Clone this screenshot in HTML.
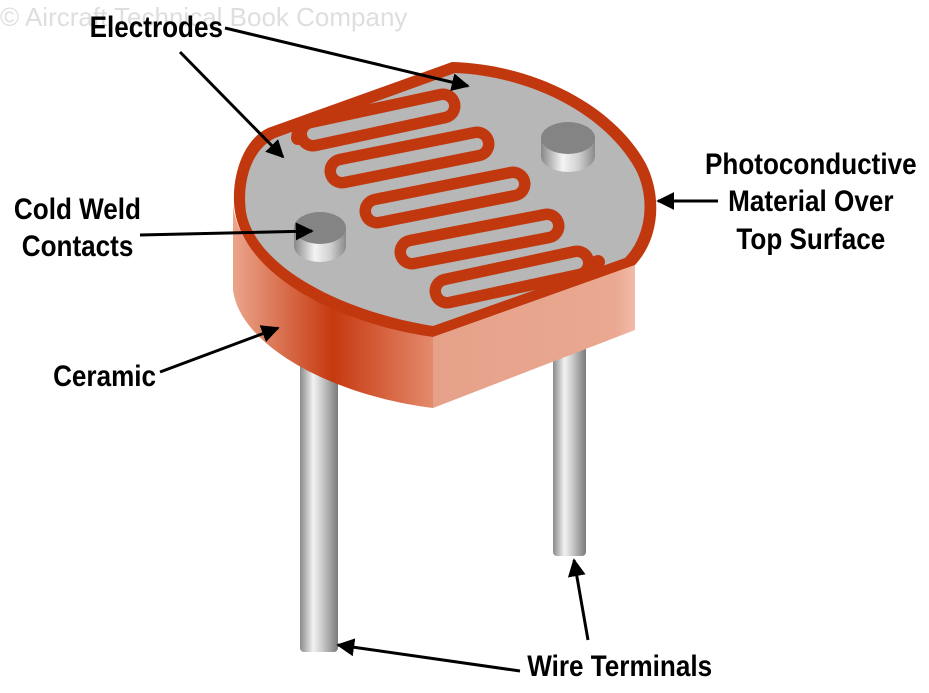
<!DOCTYPE html>
<html><head><meta charset="utf-8"><style>
html,body{margin:0;padding:0;background:#fff;}
svg{display:block;}
text{font-family:"Liberation Sans",sans-serif;font-size:30px;font-weight:bold;fill:#000;}
</style></head><body>
<svg width="929" height="693" viewBox="0 0 929 693" xmlns="http://www.w3.org/2000/svg">
<defs>
<linearGradient id="pin" x1="0" x2="1" y1="0" y2="0">
<stop offset="0" stop-color="#8a8a8a"/><stop offset="0.35" stop-color="#f2f2f2"/><stop offset="0.6" stop-color="#c8c8c8"/><stop offset="1" stop-color="#7a7a7a"/>
</linearGradient>
<linearGradient id="body" x1="233" x2="433" y1="0" y2="0" gradientUnits="userSpaceOnUse">
<stop offset="0" stop-color="#eba58c"/><stop offset="0.5" stop-color="#c6390f"/><stop offset="1" stop-color="#e48a6c"/>
</linearGradient>
<linearGradient id="right" x1="433" x2="635" y1="0" y2="0" gradientUnits="userSpaceOnUse">
<stop offset="0" stop-color="#e6a189"/><stop offset="0.9" stop-color="#eaa891"/><stop offset="1" stop-color="#f1bba7"/>
</linearGradient>
<linearGradient id="cyl" x1="0" x2="1" y1="0" y2="0">
<stop offset="0" stop-color="#888"/><stop offset="0.4" stop-color="#f4f4f4"/><stop offset="0.7" stop-color="#d0d0d0"/><stop offset="1" stop-color="#8a8a8a"/>
</linearGradient>
<marker id="ah" viewBox="0 0 10 10" refX="9" refY="5" markerWidth="6" markerHeight="6" orient="auto">
<path d="M0,0 L10,5 L0,10 z" fill="#000"/></marker>
</defs>

<text x="0" y="26" style="font-size:26px;font-weight:normal;fill:#dedede">© Aircraft Technical Book Company</text>

<rect x="300" y="360" width="38" height="292" rx="4" fill="url(#pin)"/>
<rect x="553" y="330" width="33" height="226" rx="4" fill="url(#pin)"/>

<path d="M233,205 L233,290 C240,345 330,395 433,408 L433,330 C330,320 240,270 233,205 Z" fill="url(#body)"/>
<path d="M433,337 L635,265 L635,330 L433,408 Z" fill="url(#right)"/>

<path d="M452,62 L268,128 C242,140 230,180 235,212 C245,272 330,322 433,337 L635,265 C660,238 662,196 646,164 C612,102 530,64 452,62 Z" fill="#c1380f"/>
<path d="M455,73 L275,138 C251,150 242,182 246,212 C255,264 335,310 433,326 L625,258 C647,235 650,198 636,170 C604,112 528,76 455,73 Z" fill="#b7b7b7"/>

<g stroke-linecap="round" fill="none">
<path d="M300,126 L298,138" stroke="#c1380f" stroke-width="14"/>
<path d="M573,272 L598,262" stroke="#c1380f" stroke-width="14"/>
<g stroke="#c1380f" stroke-width="35">
<line x1="313" y1="134" x2="443" y2="106"/>
<line x1="342" y1="171" x2="477" y2="144"/>
<line x1="377" y1="211" x2="513" y2="184"/>
<line x1="412" y1="252" x2="547" y2="226"/>
<line x1="447" y1="291" x2="577" y2="263"/>
</g>
<g stroke="#b7b7b7" stroke-width="12">
<line x1="313" y1="134" x2="443" y2="106"/>
<line x1="342" y1="171" x2="477" y2="144"/>
<line x1="377" y1="211" x2="513" y2="184"/>
<line x1="412" y1="252" x2="547" y2="226"/>
<line x1="447" y1="291" x2="577" y2="263"/>
</g>
</g>

<path d="M294,228 L294,246 A26,16 0 0 0 346,246 L346,228 Z" fill="url(#cyl)"/>
<ellipse cx="320" cy="228" rx="26" ry="16" fill="#848484"/>
<path d="M541,138 L541,156 A27,16 0 0 0 595,156 L595,138 Z" fill="url(#cyl)"/>
<ellipse cx="568" cy="138" rx="27" ry="16" fill="#848484"/>

<g stroke="#000" stroke-width="3" marker-end="url(#ah)">
<line x1="225" y1="28" x2="468" y2="86"/>
<line x1="180" y1="52" x2="283" y2="157"/>
<line x1="140" y1="235" x2="312" y2="231"/>
<line x1="718" y1="201" x2="658" y2="201"/>
<line x1="160" y1="372" x2="278" y2="328"/>
<line x1="520" y1="671" x2="338" y2="645"/>
<line x1="588" y1="640" x2="574" y2="560"/>
</g>

<g transform="scale(0.87,1)">
<text x="103" y="37">Electrodes</text>
<text x="16" y="219">Cold Weld</text>
<text x="25" y="256">Contacts</text>
<text x="61" y="386">Ceramic</text>
<text x="606" y="676">Wire Terminals</text>
<text x="932" y="174" text-anchor="middle">Photoconductive</text>
<text x="932" y="211" text-anchor="middle">Material Over</text>
<text x="932" y="249" text-anchor="middle">Top Surface</text>
</g>
</svg>
</body></html>
